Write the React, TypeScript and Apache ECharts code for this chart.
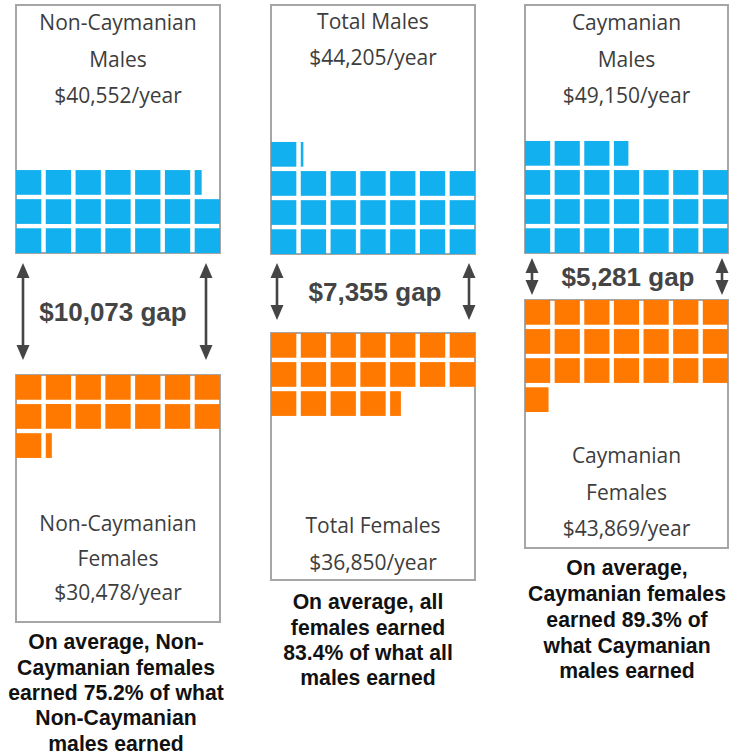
import React, { useEffect, useRef } from "react";
import * as echarts from "echarts";

// ---------- data ----------
const UNIT_VALUE = 2000; // each square = $2,000
const groups = ["Non-Caymanian", "Total", "Caymanian"];
const maleEarnings = [40552, 44205, 49150];
const femaleEarnings = [30478, 36850, 43869];
const gapValues = [10073, 7355, 5281];
const maleTitles = [["Non-Caymanian", "Males"], ["Total Males"], ["Caymanian", "Males"]];
const femaleTitles = [["Non-Caymanian", "Females"], ["Total Females"], ["Caymanian", "Females"]];
const captions = [
  ["On average, Non-", "Caymanian females", "earned 75.2% of what", "Non-Caymanian", "males earned"],
  ["On average, all", "females earned", "83.4% of what all", "males earned"],
  ["On average,", "Caymanian females", "earned 89.3% of", "what Caymanian", "males earned"],
];

// ---------- layout ----------
const COLS = 7;
const SQ = 0.85;
const PITCH_Y = 29.1;
const BLUE = "#12B0EE";
const ORANGE = "#FF7800";
const BORDER = "#a6a6a6";

const PANELS = [
  {
    left: 16, width: 204,
    topBox: { top: 5, height: 248 }, botBox: { top: 375, height: 247 },
    topLabel: { y: 22, lh: 36.5 }, botLabel: { y: 523, lh: 34.5 },
    gapLabel: { x: 113, y: 312 },
    arrows: { xl: 23, xr: 206, y1: 263, y2: 360 },
    caption: { x: 116, y: 642, lh: 25.3 },
  },
  {
    left: 271, width: 204,
    topBox: { top: 5, height: 249 }, botBox: { top: 333, height: 247 },
    topLabel: { y: 21, lh: 36 }, botLabel: { y: 525, lh: 37 },
    gapLabel: { x: 375, y: 292 },
    arrows: { xl: 277, xr: 469, y1: 263, y2: 320 },
    caption: { x: 368, y: 602, lh: 25.3 },
  },
  {
    left: 525, width: 203,
    topBox: { top: 5, height: 248 }, botBox: { top: 300, height: 248 },
    topLabel: { y: 22, lh: 36.5 }, botLabel: { y: 455, lh: 36.5 },
    gapLabel: { x: 628, y: 277 },
    arrows: { xl: 532, xr: 722, y1: 258, y2: 295 },
    caption: { x: 627, y: 568, lh: 25.7 },
  },
];

function buildSquares(value: number) {
  const n = value / UNIT_VALUE;
  const full = Math.floor(n);
  const frac = n - full;
  const out: number[][] = [];
  for (let i = 0; i < full; i++) out.push([i % COLS, Math.floor(i / COLS), 1]);
  if (frac > 0.001) out.push([full % COLS, Math.floor(full / COLS), frac]);
  return out;
}

const fmt = (v: number) => "$" + v.toLocaleString("en-US");

function makeRender(color: string) {
  return (params: any, api: any) => {
    const col = api.value(0);
    const row = api.value(1);
    const frac = api.value(2);
    const a = api.coord([col, row]);
    const b = api.coord([col + SQ * frac, row + SQ]);
    return {
      type: "rect",
      shape: {
        x: Math.min(a[0], b[0]),
        y: Math.min(a[1], b[1]),
        width: Math.abs(b[0] - a[0]),
        height: Math.abs(b[1] - a[1]),
      },
      style: { fill: color },
    };
  };
}

function buildOption() {
  const grid: any[] = [];
  const xAxis: any[] = [];
  const yAxis: any[] = [];
  const series: any[] = [];
  const graphic: any[] = [];

  const boxText = (lines: string[], x: number, firstY: number, lh: number) => ({
    type: "text",
    x,
    y: firstY - lh / 2,
    z: 10,
    style: {
      text: lines.join("\n"),
      fill: "#3d3d3d",
      fontFamily: "Open Sans",
      fontSize: 21,
      lineHeight: lh,
      align: "center",
      textAlign: "center",
      verticalAlign: "top",
      textVerticalAlign: "top",
    },
  });

  const arrow = (x: number, y1: number, y2: number) => {
    const head = 15;
    const hw = 6.5;
    return [
      { type: "line", z: 10, shape: { x1: x, y1: y1 + head - 2, x2: x, y2: y2 - head + 2 }, style: { stroke: "#454545", lineWidth: 2.6 } },
      { type: "polygon", z: 10, shape: { points: [[x, y1], [x - hw, y1 + head], [x + hw, y1 + head]] }, style: { fill: "#454545" } },
      { type: "polygon", z: 10, shape: { points: [[x, y2], [x - hw, y2 - head], [x + hw, y2 - head]] }, style: { fill: "#454545" } },
    ];
  };

  groups.forEach((g, i) => {
    const p = PANELS[i];
    const boxes = [
      { box: p.topBox, value: maleEarnings[i], color: BLUE, inverse: false, name: g + " males" },
      { box: p.botBox, value: femaleEarnings[i], color: ORANGE, inverse: true, name: g + " females" },
    ];
    boxes.forEach((bx) => {
      const idx = grid.length;
      grid.push({
        left: p.left,
        top: bx.box.top,
        width: p.width,
        height: bx.box.height,
        show: true,
        backgroundColor: "#fff",
        borderColor: BORDER,
        borderWidth: 2,
      });
      xAxis.push({ gridIndex: idx, type: "value", min: 0, max: COLS - (1 - SQ), show: false });
      yAxis.push({ gridIndex: idx, type: "value", min: 0, max: bx.box.height / PITCH_Y, inverse: bx.inverse, show: false });
      series.push({
        type: "custom",
        name: bx.name,
        xAxisIndex: idx,
        yAxisIndex: idx,
        silent: true,
        renderItem: makeRender(bx.color),
        data: buildSquares(bx.value),
      });
    });

    const cx = p.left + p.width / 2;
    graphic.push(boxText([...maleTitles[i], fmt(maleEarnings[i]) + "/year"], cx, p.topLabel.y, p.topLabel.lh));
    graphic.push(boxText([...femaleTitles[i], fmt(femaleEarnings[i]) + "/year"], cx, p.botLabel.y, p.botLabel.lh));

    graphic.push({
      type: "text",
      x: p.gapLabel.x,
      y: p.gapLabel.y,
      z: 10,
      style: {
        text: fmt(gapValues[i]) + " gap",
        fill: "#444444",
        fontFamily: "Liberation Sans",
        fontWeight: "bold",
        fontSize: 26,
        align: "center",
        textAlign: "center",
        verticalAlign: "middle",
        textVerticalAlign: "middle",
      },
    });

    graphic.push(...arrow(p.arrows.xl, p.arrows.y1, p.arrows.y2));
    graphic.push(...arrow(p.arrows.xr, p.arrows.y1, p.arrows.y2));

    graphic.push({
      type: "text",
      x: p.caption.x,
      y: p.caption.y - p.caption.lh / 2,
      z: 10,
      style: {
        text: captions[i].join("\n"),
        fill: "#111111",
        fontFamily: "Liberation Sans",
        fontWeight: "bold",
        fontSize: 21.2,
        lineHeight: p.caption.lh,
        align: "center",
        textAlign: "center",
        verticalAlign: "top",
        textVerticalAlign: "top",
      },
    });
  });

  return {
    animation: false,
    backgroundColor: "#ffffff",
    grid,
    xAxis,
    yAxis,
    series,
    graphic,
  };
}

export default function App() {
  const ref = useRef<HTMLDivElement>(null);
  useEffect(() => {
    if (!ref.current) return;
    const chart = echarts.init(ref.current, null, { renderer: "svg" });
    chart.setOption(buildOption() as any);
    return () => chart.dispose();
  }, []);
  return (
    <div
      ref={ref}
      style={{ position: "absolute", left: 0, top: 0, width: 737, height: 756, background: "#fff" }}
    />
  );
}
